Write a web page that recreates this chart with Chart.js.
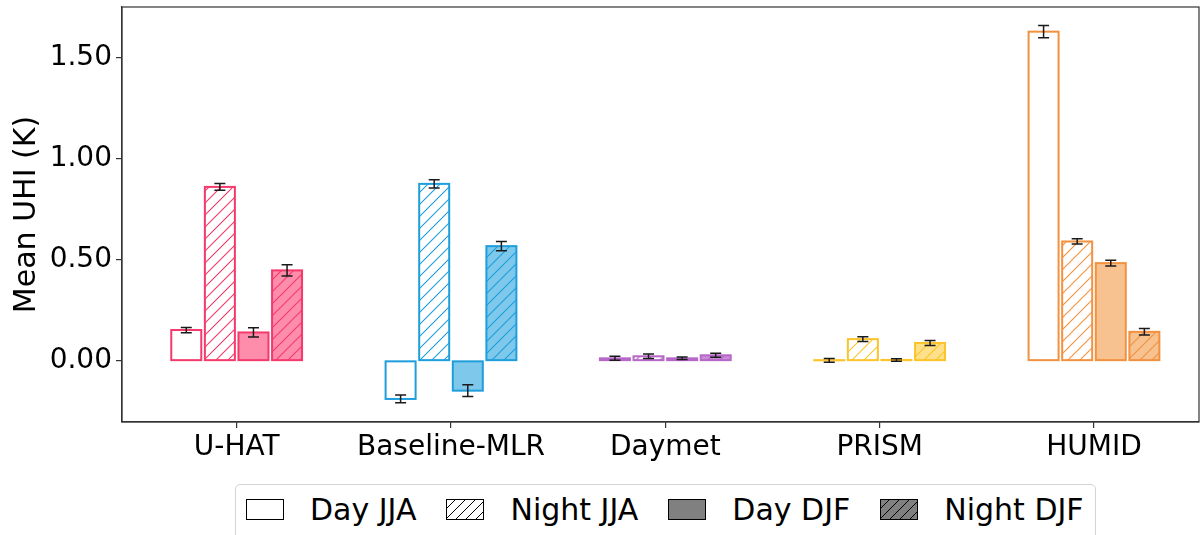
<!DOCTYPE html>
<html><head><meta charset="utf-8">
<script src="https://cdn.jsdelivr.net/npm/chart.js@4.4.0/dist/chart.umd.min.js"></script>
<style>
html,body{margin:0;padding:0;background:#fff;overflow:hidden;}
#wrap{position:relative;width:1201px;height:535px;overflow:hidden;background:#fff;}
#legend{position:absolute;left:235px;top:484px;width:861px;height:64px;border:1px solid #d4d4d4;border-radius:5px;box-sizing:border-box;background:#fff;}
#legend .row{display:flex;align-items:center;height:48px;padding-left:10px;font-family:'DejaVu Sans';font-size:30px;color:#000;white-space:nowrap;}
#legend canvas{display:block;margin-right:26px;}
#legend span{margin-right:30px;}
</style></head>
<body>
<div id="wrap">
<canvas id="c" width="1201" height="535"></canvas>
<div id="legend"><div class="row" id="legrow"></div></div>
</div>
<script>
const categories = ['U-HAT', 'Baseline-MLR', 'Daymet', 'PRISM', 'HUMID'];
const seriesNames = ['Day JJA', 'Night JJA', 'Day DJF', 'Night DJF'];
const dayJJA   = [0.152, -0.189, 0.012, 0.002, 1.628];
const nightJJA = [0.860,  0.875, 0.022, 0.107, 0.590];
const dayDJF   = [0.140, -0.148, 0.012, 0.004, 0.483];
const nightDJF = [0.447,  0.567, 0.027, 0.088, 0.143];
const errDayJJA   = [0.013, 0.019, 0.010, 0.009, 0.030];
const errNightJJA = [0.017, 0.020, 0.011, 0.012, 0.013];
const errDayDJF   = [0.023, 0.029, 0.006, 0.006, 0.014];
const errNightDJF = [0.028, 0.023, 0.010, 0.012, 0.016];
const yTicks = [0, 0.5, 1.0, 1.5];

const edgeColors = ['#f43a6b', '#1e9edb', '#b767c7', '#fcc42a', '#f2913f'];
const fillColors = ['#fe8dab', '#7ec8ec', '#c98bd6', '#fde089', '#f7c290'];

const seriesValues = [dayJJA, nightJJA, dayDJF, nightDJF];
const seriesErr = [errDayJJA, errNightJJA, errDayDJF, errNightDJF];

function hatchCanvas(bg, line, size, lw) {
  const c = document.createElement('canvas');
  c.width = size; c.height = size;
  const g = c.getContext('2d');
  g.fillStyle = bg; g.fillRect(0, 0, size, size);
  g.strokeStyle = line; g.lineWidth = lw;
  g.beginPath();
  g.moveTo(0, size); g.lineTo(size, 0);
  g.moveTo(-size / 2, size / 2); g.lineTo(size / 2, -size / 2);
  g.moveTo(size / 2, size * 1.5); g.lineTo(size * 1.5, size / 2);
  g.stroke();
  return c;
}
function hatch(bg, line) {
  const c = hatchCanvas(bg, line, 12, 1.1);
  return c.getContext('2d').createPattern(c, 'repeat');
}

const datasets = seriesNames.map((name, s) => ({
  label: name,
  data: categories.map((c, i) => ({x: i, y: seriesValues[s][i]})),
  backgroundColor: categories.map((c, i) =>
    s === 0 ? '#ffffff' :
    s === 1 ? hatch('#ffffff', edgeColors[i]) :
    s === 2 ? fillColors[i] : hatch(fillColors[i], edgeColors[i])),
  borderColor: edgeColors,
  borderWidth: 0,
  categoryPercentage: 0.627,
  barPercentage: 0.893
}));

// matplotlib-style edges: stroke centred on each bar's outline
const barEdges = {
  id: 'barEdges',
  afterDatasetsDraw(chart) {
    const ctx = chart.ctx;
    chart.data.datasets.forEach((ds, s) => {
      const meta = chart.getDatasetMeta(s);
      meta.data.forEach((bar, i) => {
        const p = bar.getProps(['x', 'y', 'base', 'width']);
        const left = p.x - p.width / 2;
        const top = Math.min(p.y, p.base), h = Math.abs(p.base - p.y);
        ctx.save();
        ctx.strokeStyle = edgeColors[i]; ctx.lineWidth = 2;
        ctx.strokeRect(left, top, p.width, h);
        ctx.restore();
      });
    });
  }
};

const errorBars = {
  id: 'errorBars',
  afterDatasetsDraw(chart) {
    const ctx = chart.ctx, y = chart.scales.y;
    chart.data.datasets.forEach((ds, s) => {
      const meta = chart.getDatasetMeta(s);
      meta.data.forEach((bar, i) => {
        const v = seriesValues[s][i], e = seriesErr[s][i];
        const y1 = y.getPixelForValue(v - e), y2 = y.getPixelForValue(v + e);
        const x = bar.x;
        ctx.save();
        ctx.strokeStyle = '#1a1a1a'; ctx.lineWidth = 1.5;
        ctx.beginPath();
        ctx.moveTo(x, y1); ctx.lineTo(x, y2);
        ctx.moveTo(x - 5.5, y1); ctx.lineTo(x + 5.5, y1);
        ctx.moveTo(x - 5.5, y2); ctx.lineTo(x + 5.5, y2);
        ctx.stroke();
        ctx.restore();
      });
    });
  }
};
const frame = {
  id: 'frame',
  afterDraw(chart) {
    const a = chart.chartArea, ctx = chart.ctx;
    ctx.save();
    ctx.strokeStyle = '#333'; ctx.lineWidth = 1.2;
    ctx.strokeRect(a.left, a.top, a.right - a.left, a.bottom - a.top);
    ctx.restore();
  }
};

new Chart(document.getElementById('c'), {
  type: 'bar',
  data: {datasets},
  options: {
    responsive: false, animation: false, devicePixelRatio: 1,
    layout: {padding: {left: 0, top: 7, right: 2, bottom: 0}},
    plugins: {legend: {display: false}, tooltip: {enabled: false}},
    scales: {
      x: {
        type: 'linear', min: -0.535, max: 4.49, offset: false,
        afterBuildTicks: s => { s.ticks = categories.map((c, i) => ({value: i})); },
        afterFit: s => { s.height = 113; s.paddingLeft = 0; s.paddingRight = 0; },
        ticks: {
          callback: v => categories[Math.round(v)],
          font: {family: 'DejaVu Sans', size: 28}, color: '#000',
          padding: 3, maxRotation: 0, autoSkip: false, includeBounds: false
        },
        grid: {display: true, drawOnChartArea: false, drawTicks: true, tickLength: 6, color: '#333', lineWidth: 1.2, offset: false},
        border: {display: true, color: '#333', width: 1.2}
      },
      y: {
        min: -0.303, max: 1.75,
        afterBuildTicks: s => { s.ticks = yTicks.map(v => ({value: v})); },
        afterFit: s => { s.width = 122; s.paddingTop = 0; s.paddingBottom = 0; },
        ticks: {
          callback: v => Number(v).toFixed(2),
          font: {family: 'DejaVu Sans', size: 28}, color: '#000', padding: 4
        },
        title: {display: true, text: 'Mean UHI (K)', font: {family: 'DejaVu Sans', size: 30}, color: '#000', padding: {top: 9, bottom: 0}},
        grid: {display: true, drawOnChartArea: false, drawTicks: true, tickLength: 6, color: '#333', lineWidth: 1.2},
        border: {display: true, color: '#333', width: 1.2}
      }
    }
  },
  plugins: [barEdges, errorBars, frame]
});

// legend
const row = document.getElementById('legrow');
seriesNames.forEach((name, s) => {
  const m = document.createElement('canvas');
  m.width = 38; m.height = 21;
  const g = m.getContext('2d');
  const fill = (s >= 2) ? '#808080' : '#ffffff';
  if (s === 1 || s === 3) {
    g.fillStyle = g.createPattern(hatchCanvas(fill, '#000', 10, 1), 'repeat');
  } else {
    g.fillStyle = fill;
  }
  g.fillRect(0, 0, 38, 21);
  g.strokeStyle = '#000'; g.lineWidth = 1;
  g.strokeRect(0.5, 0.5, 37, 20);
  const t = document.createElement('span');
  t.textContent = name;
  row.appendChild(m); row.appendChild(t);
});
</script>
</body></html>
